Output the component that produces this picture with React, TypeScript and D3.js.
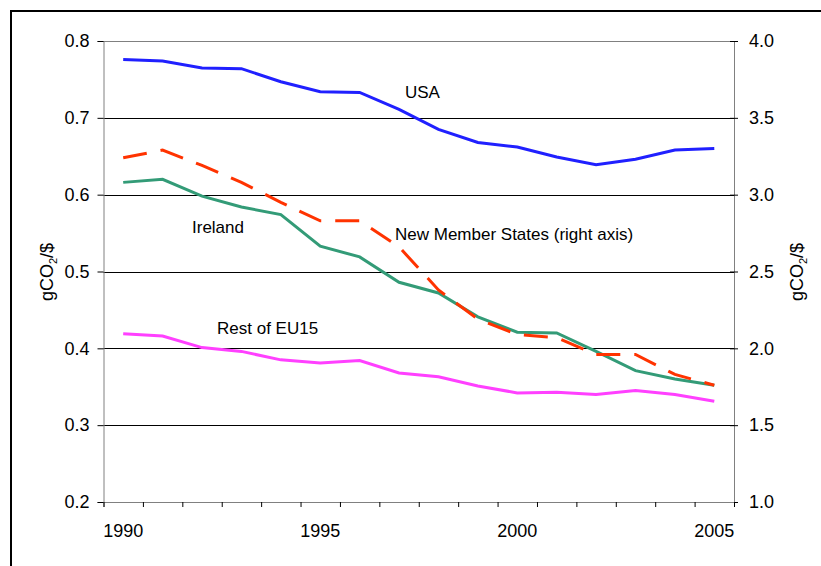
import React, { useEffect, useRef } from 'react';
import * as d3 from 'd3';

// Years on the category axis
const years = d3.range(1990, 2006).map(String);
const yearLabels = ['1990', '1995', '2000', '2005'];

// Left axis series (gCO2/$)
const usa = [0.776, 0.774, 0.765, 0.764, 0.747, 0.734, 0.733, 0.711, 0.685, 0.668, 0.662, 0.649, 0.639, 0.646, 0.658, 0.660];
const ireland = [0.616, 0.620, 0.598, 0.584, 0.574, 0.533, 0.519, 0.486, 0.472, 0.441, 0.421, 0.420, 0.396, 0.371, 0.360, 0.352];
const restEU15 = [0.419, 0.416, 0.401, 0.396, 0.385, 0.381, 0.384, 0.368, 0.363, 0.351, 0.342, 0.343, 0.340, 0.345, 0.340, 0.331];

// Right axis series (gCO2/$)
const newMembers = [3.24, 3.29, 3.19, 3.08, 2.95, 2.83, 2.83, 2.66, 2.38, 2.19, 2.09, 2.07, 1.96, 1.96, 1.83, 1.76];

const leftTicks = [0.2, 0.3, 0.4, 0.5, 0.6, 0.7, 0.8];
const rightTicks = [1.0, 1.5, 2.0, 2.5, 3.0, 3.5, 4.0];

const FONT = '"Liberation Sans", Arial, sans-serif';

const App = () => {
  const ref = useRef<SVGSVGElement>(null);

  useEffect(() => {
    const svg = d3.select(ref.current);
    svg.selectAll('*').remove();

    const left = 103.5;
    const right = 734;
    const top = 41;
    const bottom = 502;

    // Outer chart frame (cut off at the right and bottom)
    svg.append('rect')
      .attr('x', 11)
      .attr('y', 11)
      .attr('width', 840)
      .attr('height', 600)
      .attr('fill', 'none')
      .attr('stroke', '#000')
      .attr('stroke-width', 2);

    const x = d3.scaleBand().domain(years).range([left, right]).padding(0);
    const xIdx = d3.scaleLinear().domain([0, years.length]).range([left, right]);
    const yL = d3.scaleLinear().domain([0.2, 0.8]).range([bottom, top]);
    const yR = d3.scaleLinear().domain([1, 4]).range([bottom, top]);

    // Gridlines
    svg.append('g')
      .selectAll('line')
      .data(leftTicks.slice(1))
      .enter()
      .append('line')
      .attr('x1', left)
      .attr('x2', right)
      .attr('y1', d => Math.round(yL(d)) + 0.5)
      .attr('y2', d => Math.round(yL(d)) + 0.5)
      .attr('stroke', d => (d === 0.8 ? '#808080' : '#000'))
      .attr('stroke-width', 1);

    // Left axis
    const gl = svg.append('g')
      .attr('transform', `translate(${left},0)`)
      .call(d3.axisLeft(yL).tickValues(leftTicks).tickFormat(d3.format('.1f')).tickSize(6).tickPadding(8));
    gl.select('.domain').attr('stroke', '#808080');
    gl.selectAll('.tick line').attr('stroke', '#000');
    gl.selectAll('text').style('font-family', FONT).style('font-size', '18px').attr('fill', '#000');

    // Right axis
    const gr = svg.append('g')
      .attr('transform', `translate(${right},0)`)
      .call(d3.axisRight(yR).tickValues(rightTicks).tickFormat(d3.format('.1f')).tickSize(4).tickPadding(11));
    gr.select('.domain').attr('stroke', '#808080');
    gr.selectAll('.tick line').attr('x1', -4).attr('stroke', '#000');
    gr.selectAll('text').style('font-family', FONT).style('font-size', '18px').attr('fill', '#000');

    // Bottom axis: ticks between categories
    const gb = svg.append('g')
      .attr('transform', `translate(0,${bottom})`)
      .call(d3.axisBottom(xIdx).tickValues(d3.range(0, years.length + 1)).tickSize(5).tickFormat(() => ''));
    gb.select('.domain').attr('stroke', '#808080');
    gb.selectAll('.tick line').attr('stroke', '#000');

    svg.append('g')
      .selectAll('text')
      .data(yearLabels)
      .enter()
      .append('text')
      .attr('x', d => (x(d) as number) + x.bandwidth() / 2)
      .attr('y', 537)
      .attr('text-anchor', 'middle')
      .style('font-family', FONT)
      .style('font-size', '18px')
      .text(d => d);

    // Axis titles
    const title = (cx: number) => {
      const t = svg.append('text')
        .attr('transform', `translate(${cx},272) rotate(-90)`)
        .attr('text-anchor', 'middle')
        .style('font-family', FONT)
        .style('font-size', '18px');
      t.append('tspan').text('gCO');
      t.append('tspan').attr('dy', 4).style('font-size', '11px').text('2');
      t.append('tspan').attr('dy', -4).text('/$');
    };
    title(53);
    title(803);

    const cx = (i: number) => (x(years[i]) as number) + x.bandwidth() / 2;
    const lineL = d3.line<number>().x((d, i) => cx(i)).y(d => yL(d));
    const lineR = d3.line<number>().x((d, i) => cx(i)).y(d => yR(d));

    const series = [
      { data: restEU15, line: lineL, color: '#ff40ff', dash: null },
      { data: ireland, line: lineL, color: '#339b77', dash: null },
      { data: newMembers, line: lineR, color: '#ff3300', dash: '24 14' },
      { data: usa, line: lineL, color: '#2020ff', dash: null },
    ];

    series.forEach(s => {
      svg.append('path')
        .datum(s.data)
        .attr('fill', 'none')
        .attr('stroke', s.color)
        .attr('stroke-width', 3)
        .attr('stroke-dasharray', s.dash)
        .attr('d', s.line);
    });

    // Series labels
    const labels = [
      { text: 'USA', x: 405, y: 98 },
      { text: 'Ireland', x: 192, y: 233 },
      { text: 'New Member States (right axis)', x: 395, y: 240 },
      { text: 'Rest of EU15', x: 217, y: 334 },
    ];
    svg.append('g')
      .selectAll('text')
      .data(labels)
      .enter()
      .append('text')
      .attr('x', d => d.x)
      .attr('y', d => d.y)
      .style('font-family', FONT)
      .style('font-size', '17px')
      .text(d => d.text);
  }, []);

  return (
    <svg
      ref={ref}
      width={821}
      height={566}
      style={{ position: 'absolute', left: 0, top: 0, background: '#fff' }}
    />
  );
};

export default App;
